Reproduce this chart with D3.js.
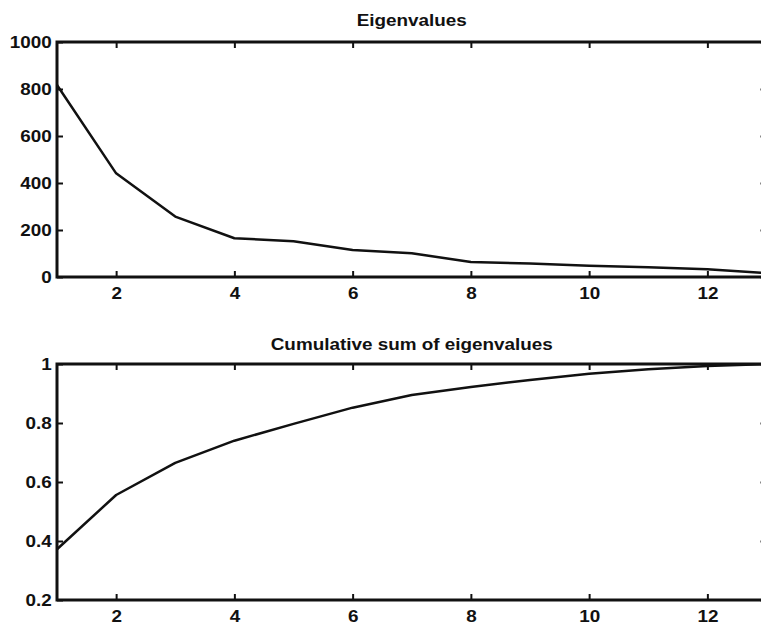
<!DOCTYPE html>
<html>
<head>
<meta charset="utf-8">
<script src="https://cdn.jsdelivr.net/npm/d3@7"></script>
<style>
  html, body { margin: 0; padding: 0; background: #fff; }
  svg { display: block; }
  text { font-family: "Liberation Sans", Arial, Helvetica, sans-serif; font-weight: bold; font-size: 16px; fill: #111; }
</style>
</head>
<body>
<div id="chart"></div>
<script>
// Component index (x) shared by both panels
const components = [1, 2, 3, 4, 5, 6, 7, 8, 9, 10, 11, 12, 13];
// Eigenvalues per component
const eigenvalues = [817, 441, 257, 165, 152, 115, 101, 64, 57, 48, 41, 33, 17];
// Cumulative share of the eigenvalue total
const cumulative = [0.372, 0.556, 0.665, 0.74, 0.797, 0.852, 0.895, 0.922, 0.946, 0.967, 0.982, 0.993, 1.0];

const xTicks = [2, 4, 6, 8, 10, 12];
const eigTicks = [0, 200, 400, 600, 800, 1000];
const cumTicks = [0.2, 0.4, 0.6, 0.8, 1];

const W = 761, H = 627;
const TEXT_STRETCH = 1.18;

const svg = d3.select("#chart").append("svg")
  .attr("width", W).attr("height", H);

const x = d3.scaleLinear().domain([1, 13]).range([57, 766.5]);

function panel(opts) {
  const { top, bottom, domain, ticks, fmt, values, title, titleY } = opts;
  const y = d3.scaleLinear().domain(domain).range([bottom, top]);
  const g = svg.append("g");

  // x axis (bottom, labelled, inward ticks)
  const xb = g.append("g").attr("transform", `translate(0,${bottom})`)
    .call(d3.axisBottom(x).tickValues(xTicks).tickSizeInner(-6).tickSizeOuter(0).tickPadding(0).tickFormat(d3.format("d")));
  xb.selectAll("text").attr("y", 22.3).attr("dy", null);

  // x axis (top, ticks only)
  g.append("g").attr("transform", `translate(0,${top})`)
    .call(d3.axisTop(x).tickValues(xTicks).tickSizeInner(-6).tickSizeOuter(0).tickFormat(""));

  // y axis (left, labelled)
  const yl = g.append("g").attr("transform", `translate(${x.range()[0]},0)`)
    .call(d3.axisLeft(y).tickValues(ticks).tickSizeInner(-6).tickSizeOuter(0).tickPadding(0).tickFormat(fmt));
  yl.selectAll("text").attr("x", -5.2 / TEXT_STRETCH).attr("dy", "0.36em");

  // y axis (right, ticks only)
  g.append("g").attr("transform", `translate(${x.range()[1]},0)`)
    .call(d3.axisRight(y).tickValues(ticks).tickSizeInner(-6).tickSizeOuter(0).tickFormat(""));

  g.selectAll(".domain").remove();
  g.selectAll(".tick line").attr("stroke", "#111").attr("stroke-width", 2);
  g.selectAll(".tick text")
    .attr("transform", `scale(${TEXT_STRETCH},1)`)
    .attr("font-family", null).attr("font-size", null)
    .attr("fill", "#111");

  // frame
  g.append("rect")
    .attr("x", x.range()[0]).attr("y", top)
    .attr("width", x.range()[1] - x.range()[0]).attr("height", bottom - top)
    .attr("fill", "none").attr("stroke", "#111").attr("stroke-width", 3);

  // data line
  const line = d3.line().x((d, i) => x(components[i])).y(d => y(d));
  g.append("path").datum(values)
    .attr("d", line)
    .attr("fill", "none").attr("stroke", "#111")
    .attr("stroke-width", 2.5).attr("stroke-linejoin", "round");

  // title
  g.append("text")
    .attr("transform", `translate(${(x.range()[0] + x.range()[1]) / 2},${titleY}) scale(${TEXT_STRETCH},1)`)
    .attr("text-anchor", "middle")
    .text(title);
}

panel({
  top: 42, bottom: 277, domain: [0, 1000], ticks: eigTicks,
  fmt: d3.format("d"), values: eigenvalues,
  title: "Eigenvalues", titleY: 26
});

panel({
  top: 364, bottom: 600, domain: [0.2, 1], ticks: cumTicks,
  fmt: d => String(+d.toFixed(1)), values: cumulative,
  title: "Cumulative sum of eigenvalues", titleY: 349.5
});
</script>
</body>
</html>
